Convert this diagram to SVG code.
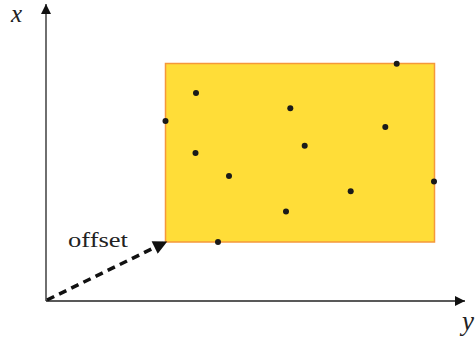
<svg xmlns="http://www.w3.org/2000/svg" width="476" height="344" viewBox="0 0 476 344">
<style>
.axis{stroke:#222;stroke-width:1.3;fill:none}
.dot{fill:#1a1a1a}
.lbl{font-family:"Liberation Serif","DejaVu Serif",serif;fill:#222}
</style>
<defs>
<marker id="ah" viewBox="0 0 10 10" refX="10" refY="5" markerWidth="14" markerHeight="10" markerUnits="userSpaceOnUse" orient="auto"><path d="M0,0 L10,5 L0,10 Z" fill="#111"/></marker>
<marker id="dh" viewBox="0 0 10 10" refX="9" refY="5" markerWidth="17" markerHeight="14" markerUnits="userSpaceOnUse" orient="auto"><path d="M0,0 L10,5 L0,10 Z" fill="#111"/></marker>
</defs>
<g id="region">
<rect x="165.5" y="63.5" width="269" height="178.5" fill="#FFDD38" stroke="#F5983A" stroke-width="1.5"/>
</g>
<g id="points">
<circle class="dot" cx="196" cy="93" r="3"/>
<circle class="dot" cx="165.5" cy="121" r="3"/>
<circle class="dot" cx="195.5" cy="153" r="3"/>
<circle class="dot" cx="229" cy="176" r="3"/>
<circle class="dot" cx="290.3" cy="108.3" r="3"/>
<circle class="dot" cx="304.7" cy="145.7" r="3"/>
<circle class="dot" cx="286" cy="211.5" r="3"/>
<circle class="dot" cx="350.7" cy="191.3" r="3"/>
<circle class="dot" cx="385.3" cy="127" r="3"/>
<circle class="dot" cx="396.7" cy="63.7" r="3"/>
<circle class="dot" cx="434" cy="181.5" r="3"/>
<circle class="dot" cx="218" cy="242" r="3"/>
</g>
<g id="connectors">
<line class="axis" x1="46" y1="301" x2="46" y2="4" marker-end="url(#ah)"/>
<line class="axis" x1="46" y1="301" x2="465" y2="301" marker-end="url(#ah)"/>
<line x1="47" y1="300" x2="166" y2="242" stroke="#111" stroke-width="3.5" stroke-dasharray="8,5.5" marker-end="url(#dh)"/>
</g>
<g id="labels">
<text class="lbl" x="11" y="22" font-size="25" font-style="italic">x</text>
<text class="lbl" x="462" y="330" font-size="27" font-style="italic">y</text>
<text class="lbl" x="68" y="247" font-size="22" textLength="60" lengthAdjust="spacingAndGlyphs">offset</text>
</g>
</svg>
